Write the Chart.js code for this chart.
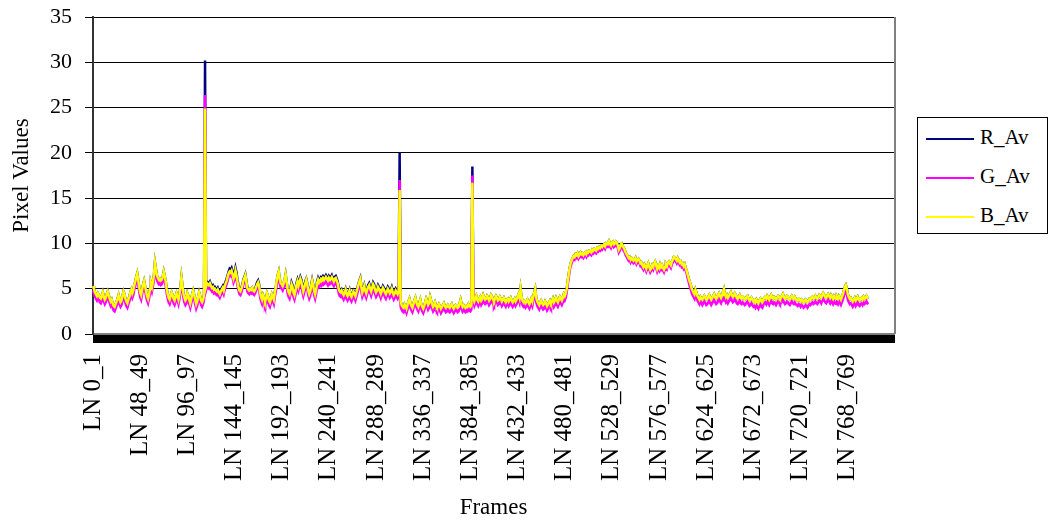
<!DOCTYPE html>
<html lang="en">
<head>
    <meta charset="UTF-8">
    <title>Pixel Values per Frame</title>
    <script src="https://cdn.jsdelivr.net/npm/chart.js"></script>
    <style>
        body {
            margin: 0;
            padding: 0;
            background-color: #fff;
            font-family: "Liberation Serif", "DejaVu Serif", serif;
        }
        #wrap {
            position: relative;
            width: 1054px;
            height: 524px;
        }
        #legend {
            position: absolute;
            left: 917px;
            top: 117px;
            width: 131px;
            height: 117px;
            border: 1px solid #000;
            box-sizing: border-box;
            background: #fff;
        }
        .item {
            position: absolute;
            left: 8px;
            font-size: 21px;
            line-height: 24px;
            color: #000;
        }
        .item span {
            display: inline-block;
            width: 48px;
            height: 2px;
            margin-right: 6px;
            vertical-align: middle;
        }
    </style>
</head>
<body>

<div id="wrap">
    <canvas id="chart" width="1054" height="524"></canvas>
    <div id="legend">
        <div class="item" style="top:7px"><span style="background:#000080"></span>R_Av</div>
        <div class="item" style="top:46px"><span style="background:#ff00ff"></span>G_Av</div>
        <div class="item" style="top:85px"><span style="background:#ffff00"></span>B_Av</div>
    </div>
</div>

<script>
    // categories: one per frame pair, the axis runs a bit past the data
    const frameCount = 816;
    const categories = [];
    for (let i = 0; i < frameCount; i++) categories.push('LN ' + i + '_' + (i + 1));

    const tickLabels = ['LN 0_1', 'LN 48_49', 'LN 96_97', 'LN 144_145', 'LN 192_193', 'LN 240_241',
        'LN 288_289', 'LN 336_337', 'LN 384_385', 'LN 432_433', 'LN 480_481', 'LN 528_529',
        'LN 576_577', 'LN 624_625', 'LN 672_673', 'LN 720_721', 'LN 768_769'];

    const seriesNames = ['R_Av', 'G_Av', 'B_Av'];

    const rAv = [
        5.3, 5.0, 4.6, 4.4, 4.2, 4.5, 4.3, 4.0, 3.9, 4.2, 4.6, 4.1, 3.8, 4.0, 4.4, 4.7, 4.3, 3.9, 3.6, 3.8,
        3.4, 3.1, 3.0, 3.3, 3.6, 3.9, 4.3, 3.8, 3.5, 3.7, 4.2, 4.7, 4.4, 3.9, 3.6, 3.4, 3.8, 4.1, 4.6, 4.9,
        4.5, 4.8, 5.4, 5.8, 6.3, 6.7, 6.0, 5.2, 4.6, 4.3, 4.9, 5.5, 5.9, 5.3, 4.7, 4.2, 3.9, 4.4, 5.0, 5.6,
        5.2, 5.8, 6.5, 7.9, 7.2, 6.5, 6.2, 6.0, 6.1, 5.9, 6.0, 6.3, 6.9, 6.4, 5.8, 5.0, 4.4, 4.0, 3.8, 4.2,
        4.6, 4.3, 3.9, 3.7, 4.1, 4.5, 4.2, 3.8, 4.4, 5.2, 6.3, 5.4, 4.5, 4.0, 3.7, 3.9, 4.5, 4.2, 3.8, 3.4,
        3.9, 4.4, 4.8, 4.3, 3.8, 3.3, 3.6, 4.1, 4.6, 4.2, 3.7, 3.5, 3.8, 4.3, 30.2, 5.4, 5.8, 5.7, 5.6, 5.8,
        5.5, 5.3, 5.4, 5.1, 5.2, 5.0, 4.9, 5.1, 4.8, 4.6, 4.9, 5.1, 5.3, 5.0, 5.5, 5.8, 6.1, 6.5, 6.9, 7.2,
        7.1, 7.3, 6.9, 6.4, 6.7, 7.3, 6.8, 6.0, 5.4, 4.9, 4.8, 5.1, 5.5, 6.0, 6.3, 6.6, 5.9, 5.2, 5.0, 4.9,
        5.0, 4.9, 5.1, 4.8, 4.7, 4.9, 5.4, 5.7, 5.9, 5.5, 4.6, 4.1, 3.8, 4.3, 4.0, 3.6, 3.9, 4.5, 4.2, 3.7,
        3.5, 3.9, 4.4, 4.1, 3.8, 4.6, 5.2, 5.9, 6.5, 6.9, 6.1, 5.6, 5.5, 5.3, 5.6, 6.0, 6.6, 5.8, 5.0, 4.6,
        4.6, 5.1, 5.7, 5.4, 4.8, 4.5, 5.0, 5.6, 6.0, 5.5, 5.9, 6.3, 6.0, 5.4, 4.9, 5.3, 5.8, 6.1, 5.6, 4.9,
        4.5, 4.8, 5.4, 6.0, 5.5, 4.9, 4.5, 5.0, 5.8, 6.2, 5.9, 6.1, 6.3, 6.2, 6.4, 6.2, 6.3, 6.5, 6.3, 6.1,
        6.4, 6.2, 6.3, 6.5, 6.2, 6.0, 6.3, 6.4, 6.1, 5.8, 5.2, 4.8, 4.7, 4.9, 4.6, 4.4, 4.7, 5.0, 4.5, 4.3,
        4.6, 4.9, 4.4, 4.2, 4.5, 4.8, 4.6, 4.3, 4.7, 5.1, 5.5, 5.9, 6.2, 5.3, 4.7, 5.0, 5.4, 4.9, 4.6, 5.0,
        5.4, 5.6, 5.2, 4.9, 5.3, 5.7, 5.5, 5.1, 4.8, 5.0, 5.4, 5.2, 4.9, 4.7, 5.0, 5.3, 5.1, 4.8, 4.6, 4.9,
        5.2, 5.0, 4.7, 4.9, 5.2, 4.8, 4.5, 4.7, 5.0, 4.8, 4.8, 5.2, 20.0, 3.6, 3.2, 3.0, 2.9, 3.3, 3.1, 2.8,
        3.2, 3.6, 3.9, 3.4, 3.1, 2.9, 3.3, 3.7, 4.0, 3.5, 3.2, 3.0, 3.4, 3.8, 3.3, 3.0, 2.8, 3.1, 3.5, 3.9,
        3.6, 3.2, 3.4, 4.1, 3.7, 3.3, 3.0, 3.2, 3.5, 3.1, 2.9, 3.0, 3.3, 3.1, 2.8, 3.0, 3.2, 3.4, 3.1, 2.9,
        3.0, 3.2, 3.0, 2.9, 3.1, 3.3, 3.0, 2.8, 3.0, 3.2, 3.1, 2.9, 3.0, 3.4, 3.8, 3.3, 3.0, 3.2, 3.0, 2.9,
        3.1, 3.0, 3.3, 3.1, 3.0, 3.2, 18.5, 4.0, 3.6, 3.9, 4.2, 3.8, 3.6, 3.9, 4.1, 3.7, 3.9, 4.3, 4.0, 3.8,
        3.9, 4.2, 4.0, 3.7, 3.9, 4.3, 4.1, 3.8, 3.6, 3.9, 4.2, 4.0, 3.7, 3.8, 4.1, 3.9, 3.6, 3.8, 4.0, 3.7,
        3.5, 3.8, 3.9, 3.6, 3.8, 4.0, 3.7, 3.5, 3.7, 3.9, 3.6, 3.8, 4.1, 4.4, 4.0, 5.0, 4.1, 3.7, 3.5, 3.6,
        3.4, 3.6, 3.8, 3.5, 3.3, 3.6, 3.9, 3.6, 4.2, 4.6, 5.0, 4.0, 3.6, 3.4, 3.2, 3.5, 3.7, 3.4, 3.2, 3.3,
        3.6, 3.4, 3.1, 3.3, 3.5, 3.7, 3.4, 3.6, 3.9, 3.5, 3.7, 4.0, 3.7, 3.5, 3.8, 4.1, 3.9, 3.7, 4.0, 4.4,
        4.2, 4.5, 5.0, 5.8, 6.6, 7.3, 7.8, 8.1, 8.4, 8.6, 8.5, 8.8, 8.7, 8.9, 8.6, 8.8, 9.0, 8.8, 8.9, 8.7,
        8.9, 9.0, 8.8, 9.1, 9.0, 9.2, 9.1, 9.0, 9.3, 9.2, 9.4, 9.3, 9.2, 9.5, 9.4, 9.6, 9.5, 9.7, 9.6, 9.8,
        9.9, 9.7, 10.0, 9.9, 10.1, 10.3, 10.0, 9.8, 10.1, 10.2, 9.9, 10.0, 10.2, 10.1, 9.8, 9.3, 9.5, 9.9, 10.0, 9.7,
        9.5, 9.3, 9.0, 8.8, 8.6, 8.4, 8.5, 8.2, 8.4, 8.3, 8.1, 8.2, 8.4, 8.0, 8.2, 8.3, 8.1, 7.8, 7.9, 7.6,
        7.4, 7.7, 7.5, 7.2, 7.5, 7.8, 7.4, 7.1, 7.3, 7.6, 7.4, 7.8, 8.0, 7.6, 7.2, 7.5, 7.3, 7.7, 7.4, 7.6,
        7.3, 7.1, 7.4, 7.7, 7.5, 7.9, 8.0, 7.8, 7.6, 8.0, 8.2, 8.5, 8.4, 8.3, 8.1, 8.4, 8.2, 7.9, 8.0, 7.7,
        7.8, 7.5, 7.7, 7.3, 7.0, 6.6, 6.2, 5.8, 5.5, 5.1, 4.8, 4.6, 4.4, 4.9, 4.6, 4.2, 4.0, 3.8, 4.1, 3.9,
        3.8, 4.0, 4.2, 4.0, 3.8, 3.9, 4.1, 4.3, 4.0, 3.8, 4.0, 4.2, 4.4, 4.1, 3.9, 4.0, 4.3, 4.5, 4.2, 4.0,
        4.3, 4.7, 5.0, 4.4, 4.1, 4.3, 4.0, 4.2, 4.4, 4.6, 4.3, 4.1, 4.2, 4.5, 4.3, 4.0, 3.9, 4.1, 4.3, 4.0,
        3.9, 4.1, 4.0, 3.8, 3.9, 4.1, 4.2, 3.9, 3.7, 3.8, 4.0, 3.8, 3.6, 3.7, 3.5, 3.8, 3.6, 3.4, 3.7, 3.9,
        3.6, 3.5, 3.8, 4.0, 4.1, 3.9, 4.2, 4.0, 3.8, 4.1, 4.3, 4.0, 3.9, 4.1, 4.0, 3.8, 4.0, 4.2, 4.1, 3.9,
        4.0, 4.2, 4.4, 4.1, 3.9, 4.0, 4.2, 4.1, 3.9, 3.8, 4.0, 4.2, 4.0, 3.9, 4.1, 3.9, 3.8, 3.7, 3.9, 3.8,
        3.6, 3.8, 3.7, 3.5, 3.6, 3.8, 3.7, 3.5, 3.7, 3.9, 3.8, 4.0, 4.1, 3.9, 4.0, 4.2, 4.0, 3.9, 4.1, 4.3,
        4.2, 4.0, 4.3, 4.5, 4.3, 4.1, 4.0, 4.2, 4.4, 4.2, 4.0, 4.3, 4.1, 3.9, 4.2, 4.0, 3.9, 4.1, 3.9, 4.2,
        4.0, 3.8, 4.1, 4.4, 4.8, 5.2, 5.4, 5.0, 4.4, 4.1, 3.9, 4.0, 3.8, 3.6, 3.8, 4.0, 3.7, 3.9, 4.1, 3.8,
        3.7, 3.9, 4.0, 3.8, 4.1, 3.9, 4.0, 4.2, 4.0, 4.1
    ];

    const gAv = [
        4.8, 4.5, 4.1, 3.9, 3.7, 4.0, 3.8, 3.5, 3.4, 3.7, 4.1, 3.6, 3.3, 3.5, 3.9, 4.2, 3.8, 3.4, 3.1, 3.3,
        2.9, 2.6, 2.5, 2.8, 3.1, 3.4, 3.8, 3.3, 3.0, 3.2, 3.7, 4.2, 3.9, 3.4, 3.1, 2.9, 3.3, 3.6, 4.1, 4.4,
        4.0, 4.3, 4.9, 5.3, 5.8, 6.2, 5.5, 4.7, 4.1, 3.8, 4.4, 5.0, 5.4, 4.8, 4.2, 3.7, 3.4, 3.9, 4.5, 5.1,
        4.7, 5.3, 6.0, 7.4, 6.7, 6.0, 5.7, 5.5, 5.6, 5.4, 5.5, 5.8, 6.4, 5.9, 5.3, 4.5, 3.9, 3.5, 3.3, 3.7,
        4.1, 3.8, 3.4, 3.2, 3.6, 4.0, 3.7, 3.3, 3.9, 4.7, 5.8, 4.9, 4.0, 3.5, 3.2, 3.4, 4.0, 3.7, 3.3, 2.9,
        3.4, 3.9, 4.3, 3.8, 3.3, 2.8, 3.1, 3.6, 4.1, 3.7, 3.2, 3.0, 3.3, 3.8, 26.4, 4.8, 5.2, 5.1, 5.0, 5.2,
        4.9, 4.7, 4.8, 4.5, 4.6, 4.4, 4.3, 4.5, 4.2, 4.0, 4.3, 4.5, 4.7, 4.4, 4.9, 5.2, 5.5, 5.9, 6.3, 6.5,
        6.4, 6.6, 6.2, 5.7, 6.0, 6.6, 6.1, 5.4, 4.8, 4.4, 4.3, 4.6, 5.0, 5.5, 5.8, 6.1, 5.4, 4.7, 4.5, 4.4,
        4.6, 4.5, 4.7, 4.4, 4.3, 4.5, 4.8, 5.1, 5.3, 4.9, 4.1, 3.6, 3.3, 3.8, 3.5, 3.1, 3.4, 4.0, 3.7, 3.2,
        3.0, 3.4, 3.9, 3.6, 3.3, 4.1, 4.7, 5.4, 6.0, 6.4, 5.6, 5.1, 5.0, 4.8, 5.1, 5.5, 6.1, 5.3, 4.5, 4.1,
        3.9, 4.4, 5.0, 4.7, 4.1, 3.8, 4.3, 4.9, 5.3, 4.8, 5.2, 5.6, 5.3, 4.7, 4.2, 4.6, 5.1, 5.5, 5.0, 4.3,
        3.9, 4.2, 4.8, 5.4, 4.9, 4.3, 3.9, 4.4, 5.1, 5.5, 5.2, 5.4, 5.6, 5.5, 5.7, 5.5, 5.6, 5.8, 5.6, 5.4,
        5.7, 5.5, 5.6, 5.8, 5.5, 5.3, 5.6, 5.7, 5.4, 5.1, 4.5, 4.2, 4.1, 4.3, 4.0, 3.8, 4.1, 4.4, 3.9, 3.7,
        4.0, 4.3, 3.8, 3.6, 3.9, 4.2, 4.0, 3.7, 4.1, 4.5, 4.9, 5.3, 5.6, 4.7, 4.1, 4.4, 4.8, 4.3, 4.0, 4.4,
        4.7, 4.9, 4.5, 4.2, 4.6, 5.0, 4.8, 4.4, 4.1, 4.3, 4.7, 4.5, 4.2, 4.0, 4.3, 4.6, 4.4, 4.1, 3.9, 4.2,
        4.5, 4.3, 4.0, 4.2, 4.5, 4.1, 3.8, 4.0, 4.3, 4.1, 3.9, 4.2, 17.0, 3.0, 2.7, 2.5, 2.4, 2.8, 2.6, 2.3,
        2.7, 3.1, 3.4, 2.9, 2.6, 2.4, 2.8, 3.2, 3.5, 3.0, 2.7, 2.5, 2.9, 3.3, 2.8, 2.5, 2.3, 2.6, 3.0, 3.4,
        3.1, 2.7, 2.9, 3.6, 3.2, 2.8, 2.5, 2.7, 3.0, 2.6, 2.4, 2.5, 2.8, 2.6, 2.3, 2.5, 2.7, 2.9, 2.6, 2.4,
        2.5, 2.7, 2.5, 2.4, 2.6, 2.8, 2.5, 2.3, 2.5, 2.7, 2.6, 2.4, 2.5, 2.9, 3.3, 2.8, 2.5, 2.7, 2.5, 2.4,
        2.6, 2.5, 2.8, 2.6, 2.5, 2.7, 17.5, 3.5, 3.1, 3.4, 3.7, 3.3, 3.1, 3.4, 3.6, 3.2, 3.4, 3.8, 3.5, 3.3,
        3.4, 3.7, 3.5, 3.2, 3.4, 3.8, 3.6, 3.3, 3.1, 3.4, 3.7, 3.5, 3.2, 3.3, 3.6, 3.4, 3.1, 3.3, 3.5, 3.2,
        3.0, 3.3, 3.4, 3.1, 3.3, 3.5, 3.2, 3.0, 3.2, 3.4, 3.1, 3.3, 3.6, 3.9, 3.5, 4.5, 3.6, 3.2, 3.0, 3.1,
        2.9, 3.1, 3.3, 3.0, 2.8, 3.1, 3.4, 3.1, 3.7, 4.1, 4.5, 3.5, 3.1, 2.9, 2.7, 3.0, 3.2, 2.9, 2.7, 2.8,
        3.1, 2.9, 2.6, 2.8, 3.0, 3.2, 2.9, 3.1, 3.4, 3.0, 3.2, 3.5, 3.2, 3.0, 3.3, 3.6, 3.4, 3.2, 3.5, 3.9,
        3.7, 4.0, 4.6, 5.4, 6.2, 7.0, 7.5, 7.8, 8.1, 8.3, 8.2, 8.5, 8.4, 8.6, 8.3, 8.5, 8.7, 8.5, 8.6, 8.4,
        8.6, 8.7, 8.5, 8.8, 8.7, 8.9, 8.8, 8.7, 9.0, 8.9, 9.1, 9.0, 8.9, 9.2, 9.1, 9.3, 9.2, 9.4, 9.3, 9.5,
        9.6, 9.4, 9.7, 9.6, 9.8, 10.0, 9.7, 9.5, 9.8, 9.9, 9.6, 9.7, 9.9, 9.8, 9.5, 9.0, 9.2, 9.6, 9.7, 9.4,
        9.2, 9.0, 8.7, 8.5, 8.3, 8.1, 8.2, 7.9, 8.1, 8.0, 7.8, 7.9, 8.1, 7.7, 7.9, 8.0, 7.8, 7.5, 7.6, 7.3,
        7.1, 7.4, 7.2, 6.9, 7.2, 7.5, 7.1, 6.8, 7.0, 7.3, 7.1, 7.5, 7.7, 7.3, 6.9, 7.2, 7.0, 7.4, 7.1, 7.3,
        7.0, 6.8, 7.1, 7.4, 7.2, 7.6, 7.7, 7.5, 7.3, 7.7, 7.9, 8.2, 8.1, 8.0, 7.8, 8.1, 7.9, 7.6, 7.7, 7.4,
        7.5, 7.2, 7.4, 7.0, 6.7, 6.2, 5.8, 5.3, 5.0, 4.6, 4.3, 4.1, 3.9, 4.4, 4.1, 3.7, 3.5, 3.3, 3.6, 3.4,
        3.2, 3.4, 3.6, 3.4, 3.2, 3.3, 3.5, 3.7, 3.4, 3.2, 3.4, 3.6, 3.8, 3.5, 3.3, 3.4, 3.7, 3.9, 3.6, 3.4,
        3.7, 4.1, 4.4, 3.8, 3.5, 3.7, 3.4, 3.6, 3.8, 4.0, 3.7, 3.5, 3.6, 3.9, 3.7, 3.4, 3.3, 3.5, 3.7, 3.4,
        3.3, 3.5, 3.4, 3.2, 3.3, 3.5, 3.6, 3.3, 3.1, 3.2, 3.4, 3.2, 3.0, 3.1, 2.9, 3.2, 3.0, 2.8, 3.1, 3.3,
        3.0, 2.9, 3.2, 3.4, 3.5, 3.3, 3.6, 3.4, 3.2, 3.5, 3.7, 3.4, 3.3, 3.5, 3.4, 3.2, 3.4, 3.6, 3.5, 3.3,
        3.4, 3.6, 3.8, 3.5, 3.3, 3.4, 3.6, 3.5, 3.3, 3.2, 3.4, 3.6, 3.4, 3.3, 3.5, 3.3, 3.2, 3.1, 3.3, 3.2,
        3.0, 3.2, 3.1, 2.9, 3.0, 3.2, 3.1, 2.9, 3.1, 3.3, 3.2, 3.4, 3.5, 3.3, 3.4, 3.6, 3.4, 3.3, 3.5, 3.7,
        3.6, 3.4, 3.7, 3.9, 3.7, 3.5, 3.4, 3.6, 3.8, 3.6, 3.4, 3.7, 3.5, 3.3, 3.6, 3.4, 3.3, 3.5, 3.3, 3.6,
        3.4, 3.2, 3.5, 3.8, 4.2, 4.6, 4.8, 4.4, 3.8, 3.5, 3.3, 3.4, 3.2, 3.0, 3.2, 3.4, 3.1, 3.3, 3.5, 3.2,
        3.1, 3.3, 3.4, 3.2, 3.5, 3.3, 3.4, 3.6, 3.4, 3.5
    ];

    const bAv = [
        5.3, 5.0, 4.6, 4.4, 4.2, 4.5, 4.3, 4.0, 3.9, 4.2, 4.6, 4.1, 3.8, 4.0, 4.4, 4.7, 4.3, 3.9, 3.6, 3.8,
        3.4, 3.1, 3.0, 3.3, 3.6, 3.9, 4.3, 3.8, 3.5, 3.7, 4.2, 4.7, 4.4, 3.9, 3.6, 3.4, 3.8, 4.1, 4.6, 4.9,
        4.5, 4.8, 5.4, 5.8, 6.3, 6.7, 6.0, 5.2, 4.6, 4.3, 4.9, 5.5, 5.9, 5.3, 4.7, 4.2, 3.9, 4.4, 5.0, 5.6,
        5.2, 5.8, 6.5, 7.9, 7.2, 6.5, 6.2, 6.0, 6.1, 5.9, 6.0, 6.3, 6.9, 6.4, 5.8, 5.0, 4.4, 4.0, 3.8, 4.2,
        4.6, 4.3, 3.9, 3.7, 4.1, 4.5, 4.2, 3.8, 4.4, 5.2, 6.3, 5.4, 4.5, 4.0, 3.7, 3.9, 4.5, 4.2, 3.8, 3.4,
        3.9, 4.4, 4.8, 4.3, 3.8, 3.3, 3.6, 4.1, 4.6, 4.2, 3.7, 3.5, 3.8, 4.3, 24.9, 5.2, 5.6, 5.5, 5.4, 5.6,
        5.3, 5.1, 5.2, 4.9, 5.0, 4.8, 4.7, 4.9, 4.6, 4.4, 4.7, 4.9, 5.1, 4.8, 5.3, 5.6, 5.9, 6.3, 6.7, 6.9,
        6.8, 7.0, 6.6, 6.1, 6.4, 7.0, 6.5, 5.8, 5.2, 4.8, 4.7, 5.0, 5.4, 5.9, 6.2, 6.5, 5.8, 5.1, 4.9, 4.8,
        5.0, 4.9, 5.1, 4.8, 4.7, 4.9, 5.2, 5.5, 5.7, 5.3, 4.6, 4.1, 3.8, 4.3, 4.0, 3.6, 3.9, 4.5, 4.2, 3.7,
        3.5, 3.9, 4.4, 4.1, 3.8, 4.6, 5.2, 5.9, 6.5, 6.9, 6.1, 5.6, 5.5, 5.3, 5.6, 6.0, 6.6, 5.8, 5.0, 4.6,
        4.4, 4.9, 5.5, 5.2, 4.6, 4.3, 4.8, 5.4, 5.8, 5.3, 5.7, 6.1, 5.8, 5.2, 4.7, 5.1, 5.6, 6.0, 5.5, 4.8,
        4.4, 4.7, 5.3, 5.9, 5.4, 4.8, 4.4, 4.9, 5.6, 6.0, 5.7, 5.9, 6.1, 6.0, 6.2, 6.0, 6.1, 6.3, 6.1, 5.9,
        6.2, 6.0, 6.1, 6.3, 6.0, 5.8, 6.1, 6.2, 5.9, 5.6, 5.0, 4.7, 4.6, 4.8, 4.5, 4.3, 4.6, 4.9, 4.4, 4.2,
        4.5, 4.8, 4.3, 4.1, 4.4, 4.7, 4.5, 4.2, 4.6, 5.0, 5.4, 5.8, 6.1, 5.2, 4.6, 4.9, 5.3, 4.8, 4.5, 4.9,
        5.2, 5.4, 5.0, 4.7, 5.1, 5.5, 5.3, 4.9, 4.6, 4.8, 5.2, 5.0, 4.7, 4.5, 4.8, 5.1, 4.9, 4.6, 4.4, 4.7,
        5.0, 4.8, 4.5, 4.7, 5.0, 4.6, 4.3, 4.5, 4.8, 4.6, 4.4, 4.7, 15.9, 3.6, 3.2, 3.0, 2.9, 3.3, 3.1, 2.8,
        3.2, 3.6, 3.9, 3.4, 3.1, 2.9, 3.3, 3.7, 4.0, 3.5, 3.2, 3.0, 3.4, 3.8, 3.3, 3.0, 2.8, 3.1, 3.5, 3.9,
        3.6, 3.2, 3.4, 4.1, 3.7, 3.3, 3.0, 3.2, 3.5, 3.1, 2.9, 3.0, 3.3, 3.1, 2.8, 3.0, 3.2, 3.4, 3.1, 2.9,
        3.0, 3.2, 3.0, 2.9, 3.1, 3.3, 3.0, 2.8, 3.0, 3.2, 3.1, 2.9, 3.0, 3.4, 3.8, 3.3, 3.0, 3.2, 3.0, 2.9,
        3.1, 3.0, 3.3, 3.1, 3.0, 3.2, 16.7, 4.0, 3.6, 3.9, 4.2, 3.8, 3.6, 3.9, 4.1, 3.7, 3.9, 4.3, 4.0, 3.8,
        3.9, 4.2, 4.0, 3.7, 3.9, 4.3, 4.1, 3.8, 3.6, 3.9, 4.2, 4.0, 3.7, 3.8, 4.1, 3.9, 3.6, 3.8, 4.0, 3.7,
        3.5, 3.8, 3.9, 3.6, 3.8, 4.0, 3.7, 3.5, 3.7, 3.9, 3.6, 3.8, 4.1, 4.4, 4.0, 5.0, 4.1, 3.7, 3.5, 3.6,
        3.4, 3.6, 3.8, 3.5, 3.3, 3.6, 3.9, 3.6, 4.2, 4.6, 5.0, 4.0, 3.6, 3.4, 3.2, 3.5, 3.7, 3.4, 3.2, 3.3,
        3.6, 3.4, 3.1, 3.3, 3.5, 3.7, 3.4, 3.6, 3.9, 3.5, 3.7, 4.0, 3.7, 3.5, 3.8, 4.1, 3.9, 3.7, 4.0, 4.4,
        4.2, 4.5, 5.0, 5.8, 6.6, 7.3, 7.8, 8.1, 8.4, 8.6, 8.5, 8.8, 8.7, 8.9, 8.6, 8.8, 9.0, 8.8, 8.9, 8.7,
        8.9, 9.0, 8.8, 9.1, 9.0, 9.2, 9.1, 9.0, 9.3, 9.2, 9.4, 9.3, 9.2, 9.5, 9.4, 9.6, 9.5, 9.7, 9.6, 9.8,
        9.9, 9.7, 10.0, 9.9, 10.1, 10.3, 10.0, 9.8, 10.1, 10.2, 9.9, 10.0, 10.2, 10.1, 9.8, 9.3, 9.5, 9.9, 10.0, 9.7,
        9.5, 9.3, 9.0, 8.8, 8.6, 8.4, 8.5, 8.2, 8.4, 8.3, 8.1, 8.2, 8.4, 8.0, 8.2, 8.3, 8.1, 7.8, 7.9, 7.6,
        7.4, 7.7, 7.5, 7.2, 7.5, 7.8, 7.4, 7.1, 7.3, 7.6, 7.4, 7.8, 8.0, 7.6, 7.2, 7.5, 7.3, 7.7, 7.4, 7.6,
        7.3, 7.1, 7.4, 7.7, 7.5, 7.9, 8.0, 7.8, 7.6, 8.0, 8.2, 8.5, 8.4, 8.3, 8.1, 8.4, 8.2, 7.9, 8.0, 7.7,
        7.8, 7.5, 7.7, 7.3, 7.0, 6.6, 6.2, 5.8, 5.5, 5.1, 4.8, 4.6, 4.4, 4.9, 4.6, 4.2, 4.0, 3.8, 4.1, 3.9,
        3.8, 4.0, 4.2, 4.0, 3.8, 3.9, 4.1, 4.3, 4.0, 3.8, 4.0, 4.2, 4.4, 4.1, 3.9, 4.0, 4.3, 4.5, 4.2, 4.0,
        4.3, 4.7, 5.0, 4.4, 4.1, 4.3, 4.0, 4.2, 4.4, 4.6, 4.3, 4.1, 4.2, 4.5, 4.3, 4.0, 3.9, 4.1, 4.3, 4.0,
        3.9, 4.1, 4.0, 3.8, 3.9, 4.1, 4.2, 3.9, 3.7, 3.8, 4.0, 3.8, 3.6, 3.7, 3.5, 3.8, 3.6, 3.4, 3.7, 3.9,
        3.6, 3.5, 3.8, 4.0, 4.1, 3.9, 4.2, 4.0, 3.8, 4.1, 4.3, 4.0, 3.9, 4.1, 4.0, 3.8, 4.0, 4.2, 4.1, 3.9,
        4.0, 4.2, 4.4, 4.1, 3.9, 4.0, 4.2, 4.1, 3.9, 3.8, 4.0, 4.2, 4.0, 3.9, 4.1, 3.9, 3.8, 3.7, 3.9, 3.8,
        3.6, 3.8, 3.7, 3.5, 3.6, 3.8, 3.7, 3.5, 3.7, 3.9, 3.8, 4.0, 4.1, 3.9, 4.0, 4.2, 4.0, 3.9, 4.1, 4.3,
        4.2, 4.0, 4.3, 4.5, 4.3, 4.1, 4.0, 4.2, 4.4, 4.2, 4.0, 4.3, 4.1, 3.9, 4.2, 4.0, 3.9, 4.1, 3.9, 4.2,
        4.0, 3.8, 4.1, 4.4, 4.8, 5.2, 5.4, 5.0, 4.4, 4.1, 3.9, 4.0, 3.8, 3.6, 3.8, 4.0, 3.7, 3.9, 4.1, 3.8,
        3.7, 3.9, 4.0, 3.8, 4.1, 3.9, 4.0, 4.2, 4.0, 4.1
    ];

    const serif = '"Liberation Serif", "DejaVu Serif", serif';

    // right edge of the plot area (Excel draws a thin grey frame there)
    const plotFrame = {
        id: 'plotFrame',
        afterDraw(chart) {
            const a = chart.chartArea;
            const c = chart.ctx;
            c.save();
            c.strokeStyle = '#808080';
            c.lineWidth = 2;
            c.beginPath();
            c.moveTo(a.right + 1, a.top);
            c.lineTo(a.right + 1, a.bottom);
            c.stroke();
            c.restore();
        }
    };

    const ctx = document.getElementById('chart').getContext('2d');
    const chart = new Chart(ctx, {
        type: 'line',
        data: {
            labels: categories,
            datasets: [
                { label: seriesNames[0], data: rAv, borderColor: '#000080', order: 3 },
                { label: seriesNames[1], data: gAv, borderColor: '#ff00ff', order: 2 },
                { label: seriesNames[2], data: bAv, borderColor: '#ffff00', order: 1 }
            ]
        },
        options: {
            responsive: false,
            animation: false,
            devicePixelRatio: 1,
            layout: { padding: { top: 17, right: 160, left: 0, bottom: 0 } },
            elements: {
                point: { radius: 0 },
                line: { borderWidth: 2.5, tension: 0 }
            },
            plugins: {
                legend: { display: false },
                tooltip: { enabled: false }
            },
            scales: {
                x: {
                    type: 'category',
                    offset: false,
                    afterFit: s => { s.height = 190; },
                    grid: { drawOnChartArea: false, drawTicks: true, tickLength: 9, color: '#000' },
                    border: { color: '#808080', width: 2 },
                    ticks: {
                        autoSkip: false,
                        minRotation: 90,
                        maxRotation: 90,
                        padding: 11,
                        color: '#000',
                        font: { family: serif, size: 25 },
                        callback: (v, i) => tickLabels.includes(categories[i]) ? categories[i] : ''
                    },
                    title: {
                        display: true,
                        text: 'Frames',
                        color: '#000',
                        font: { family: serif, size: 23 },
                        padding: { top: 0, bottom: 2 }
                    }
                },
                y: {
                    min: 0,
                    max: 35,
                    // keep the top tick label from pushing the plot down
                    afterFit: s => { s.width = 93; s.paddingTop = 0; s.paddingBottom = 0; },
                    grid: { color: '#000', tickLength: 8 },
                    border: { color: '#333', width: 2 },
                    ticks: {
                        stepSize: 5,
                        padding: 13,
                        color: '#000',
                        font: { family: serif, size: 22 }
                    },
                    title: {
                        display: true,
                        text: 'Pixel Values',
                        color: '#000',
                        font: { family: serif, size: 23 },
                        padding: { top: 8, bottom: 0 }
                    }
                }
            }
        },
        plugins: [plotFrame]
    });
</script>

</body>
</html>
